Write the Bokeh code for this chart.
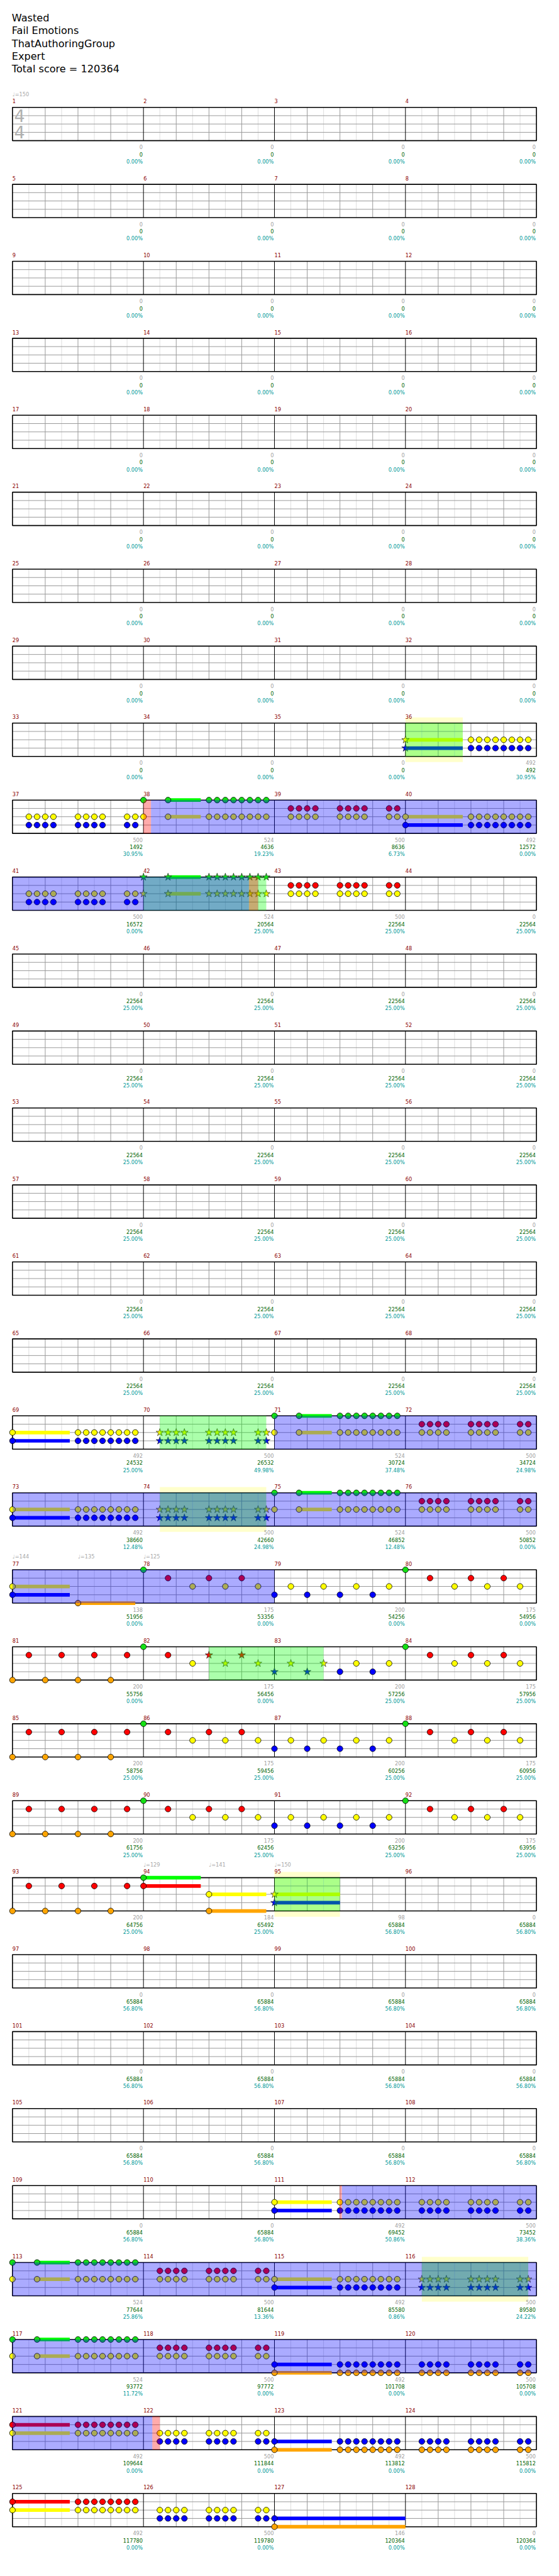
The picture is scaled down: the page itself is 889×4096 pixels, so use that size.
from bokeh.plotting import figure
from bokeh.models import Range1d, ColumnDataSource
from bokeh.embed import file_html
from bokeh.resources import INLINE
from bokeh.core.properties import value

# ---------------- data ----------------
TITLE_LINES = ["Wasted", "Fail Emotions", "ThatAuthoringGroup", "Expert", "Total score = 120364"]
N_MEASURES = 128

MEASURE_SCORE = ([0] * 32 + [0, 0, 0, 492] + [500, 524, 500, 492] + [500, 524, 500, 0] + [0] * 24
                 + [492, 500, 524, 500] + [492, 500, 524, 500] + [138, 175, 200, 175]
                 + [200, 175, 200, 175] + [200, 175, 200, 175] + [200, 175, 200, 175]
                 + [200, 184, 98, 0] + [0] * 12 + [0, 0, 492, 500] + [524, 500, 492, 500]
                 + [524, 500, 492, 500] + [492, 500, 492, 500] + [492, 500, 146, 0])

TOTAL_SCORE = ([0] * 35 + [492] + [1492, 4636, 8636, 12572] + [16572, 20564, 22564, 22564]
               + [22564] * 24 + [24532, 26532, 30724, 34724] + [38660, 42660, 46852, 50852]
               + [51956, 53356, 54256, 54956] + [55756, 56456, 57256, 57956]
               + [58756, 59456, 60256, 60956] + [61756, 62456, 63256, 63956]
               + [64756, 65492, 65884, 65884] + [65884] * 14 + [69452, 73452]
               + [77644, 81644, 85580, 89580] + [93772, 97772, 101708, 105708]
               + [109644, 111844, 113812, 115812] + [117780, 119780, 120364, 120364])

PERCENT = ([0.00] * 35 + [30.95] + [30.95, 19.23, 6.73, 0.00] + [0.00, 25.00, 25.00, 25.00]
           + [25.00] * 24 + [25.00, 49.98, 37.48, 24.98] + [12.48, 24.98, 12.48, 0.00]
           + [0.00] * 4 + [0.00, 0.00, 25.00, 25.00] + [25.00] * 8
           + [25.00, 25.00, 56.80, 56.80] + [56.80] * 14 + [50.86, 38.36]
           + [25.86, 13.36, 0.86, 24.22] + [11.72, 0.00, 0.00, 0.00] + [0.00] * 8)

# tempo changes: (measure, beat, bpm)
TEMPOS = [(1, 0, 150), (77, 0, 144), (77, 2, 135), (78, 0, 125), (94, 0, 129), (94, 2, 141), (95, 0, 150)]

RIFF_A = [0.5, 0.75, 1, 1.25, 2, 2.25, 2.5, 2.75, 3.5, 3.75]
RUN_8 = [2, 2.25, 2.5, 2.75, 3, 3.25, 3.5, 3.75]
ON_BEATS = [0, 1, 2, 3]
OFF_BEATS = [0.5, 1.5, 2.5, 3.5]
R_HITS = [0.75, 2, 3]
Y_HITS = [1.5, 2.5, 3.5]

# (measure, frets, beats, sustain in beats, star note)
NOTE_GROUPS = [
    (36, "YB", [0], 1.75, True), (36, "YB", RUN_8, 0, False),
    (37, "YB", RIFF_A, 0, False),
    (38, "GY", [0], 0, False), (38, "GY", [0.75], 1.0, False), (38, "GY", RUN_8, 0, False),
    (39, "RY", RIFF_A, 0, False),
    (40, "YB", [0], 1.75, False), (40, "YB", RUN_8, 0, False),
    (41, "YB", RIFF_A, 0, False),
    (42, "GY", [0], 0, True), (42, "GY", [0.75], 1.0, True), (42, "GY", RUN_8, 0, True),
    (43, "RY", RIFF_A, 0, False),
    (69, "YB", [0], 1.75, False), (69, "YB", RUN_8, 0, False),
    (70, "YB", RIFF_A, 0, True),
    (71, "GY", [0], 0, False), (71, "GY", [0.75], 1.0, False), (71, "GY", RUN_8, 0, False),
    (72, "RY", RIFF_A, 0, False),
    (73, "YB", [0], 1.75, False), (73, "YB", RUN_8, 0, False),
    (74, "YB", RIFF_A, 0, True),
    (75, "GY", [0], 0, False), (75, "GY", [0.75], 1.0, False), (75, "GY", RUN_8, 0, False),
    (76, "RY", RIFF_A, 0, False),
    (77, "YB", [0], 1.75, False), (77, "O", [2], 1.75, False),
    (78, "G", [0], 0, False), (78, "R", R_HITS, 0, False), (78, "Y", Y_HITS, 0, False),
    (79, "B", ON_BEATS, 0, False), (79, "Y", OFF_BEATS, 0, False),
    (80, "G", [0], 0, False), (80, "R", R_HITS, 0, False), (80, "Y", Y_HITS, 0, False),
    (81, "O", ON_BEATS, 0, False), (81, "R", OFF_BEATS, 0, False),
    (82, "G", [0], 0, False), (82, "R", [0.75], 0, False), (82, "Y", [1.5], 0, False),
    (82, "R", [2, 3], 0, True), (82, "Y", [2.5, 3.5], 0, True),
    (83, "B", [0, 1], 0, True), (83, "Y", [0.5, 1.5], 0, True),
    (83, "B", [2, 3], 0, False), (83, "Y", [2.5, 3.5], 0, False),
    (84, "G", [0], 0, False), (84, "R", R_HITS, 0, False), (84, "Y", Y_HITS, 0, False),
    (85, "O", ON_BEATS, 0, False), (85, "R", OFF_BEATS, 0, False),
    (86, "G", [0], 0, False), (86, "R", R_HITS, 0, False), (86, "Y", Y_HITS, 0, False),
    (87, "B", ON_BEATS, 0, False), (87, "Y", OFF_BEATS, 0, False),
    (88, "G", [0], 0, False), (88, "R", R_HITS, 0, False), (88, "Y", Y_HITS, 0, False),
    (89, "O", ON_BEATS, 0, False), (89, "R", OFF_BEATS, 0, False),
    (90, "G", [0], 0, False), (90, "R", R_HITS, 0, False), (90, "Y", Y_HITS, 0, False),
    (91, "B", ON_BEATS, 0, False), (91, "Y", OFF_BEATS, 0, False),
    (92, "G", [0], 0, False), (92, "R", R_HITS, 0, False), (92, "Y", Y_HITS, 0, False),
    (93, "O", ON_BEATS, 0, False), (93, "R", OFF_BEATS, 0, False),
    (94, "GR", [0], 1.75, False), (94, "YO", [2], 1.75, False),
    (95, "YB", [0], 2.0, True),
    (111, "YB", [0], 1.75, False), (111, "YB", RUN_8, 0, False),
    (112, "YB", RIFF_A, 0, False),
    (113, "GY", [0], 0, False), (113, "GY", [0.75], 1.0, False), (113, "GY", RUN_8, 0, False),
    (114, "RY", RIFF_A, 0, False),
    (115, "YB", [0], 1.75, False), (115, "YB", RUN_8, 0, False),
    (116, "YB", RIFF_A, 0, True),
    (117, "GY", [0], 0, False), (117, "GY", [0.75], 1.0, False), (117, "GY", RUN_8, 0, False),
    (118, "RY", RIFF_A, 0, False),
    (119, "BO", [0], 1.75, False), (119, "BO", RUN_8, 0, False),
    (120, "BO", RIFF_A, 0, False),
    (121, "RY", [0], 1.75, False), (121, "RY", RUN_8, 0, False),
    (122, "YB", RIFF_A, 0, False),
    (123, "BO", [0], 1.75, False), (123, "BO", RUN_8, 0, False),
    (124, "BO", RIFF_A, 0, False),
    (125, "RY", [0], 1.75, False), (125, "RY", RUN_8, 0, False),
    (126, "YB", RIFF_A, 0, False),
    (127, "BO", [0], 4.0, False),
]

# shaded spans: ((measure, beat), (measure, beat))
STAR_PHRASES = [((36, 0), (36, 1.75)), ((42, 0), (42, 3.75)), ((70, 0.5), (70, 3.75)),
                ((74, 0.5), (74, 3.75)), ((82, 2), (83, 1.5)), ((95, 0), (95, 2)),
                ((116, 0.5), (116, 3.75))]
WHAMMY_SPANS = [((36, 0), (36, 1.75)), ((74, 0.5), (74, 3.75)), ((95, 0), (95, 2)),
                ((116, 0.5), (116, 3.75))]
ACTIVATIONS = [((38, 0.23), (42, 3.22)), ((71, 0), (79, 0)), ((111, 2.06), (122, 0.27))]
ACT_MARKS = [((38, 0), (38, 0.23)), ((42, 3.22), (42, 3.5)), ((111, 1.99), (111, 2.06)),
             ((122, 0.27), (122, 0.5))]

FRET_LANE = {"G": 0, "R": 1, "Y": 2, "B": 3, "O": 4}
NOTE_COLOR = {"G": "#14e014", "R": "#ff0000", "Y": "#ffff00", "B": "#0000ff", "O": "#ffa500"}
SUST_COLOR = {"G": "#00ff00", "R": "#ff0000", "Y": "#ffff00", "B": "#0000ff", "O": "#ffa500"}

# ---------------- layout (reference px) ----------------
S = 0.868
W, H = 873, 4080
X0, BEAT = 31.5, 60.0
TOP0, ROW_STEP, LANE = 205.3, 141.0, 15.25
N_ROWS = N_MEASURES // 4
FONT = value("DejaVu Sans")


def top(r):
    return TOP0 + ROW_STEP * r


def row_of(m):
    return (m - 1) // 4


def xin(m, b):
    return ((m - 1) % 4) * 4 + b


def spans(a, b):
    g0 = (a[0] - 1) * 4 + a[1]
    g1 = (b[0] - 1) * 4 + b[1]
    out = []
    r = int(g0 // 16)
    while r * 16 < g1:
        s = max(g0, r * 16) - r * 16
        e = min(g1, (r + 1) * 16) - r * 16
        if e > s:
            out.append((r, s, e))
        r += 1
    return out


p = figure(width=W, height=H,
           x_range=Range1d((8 / S - X0) / BEAT, (8 / S + W / S - X0) / BEAT),
           y_range=Range1d(8 / S + H / S, 8 / S),
           x_axis_type=None, y_axis_type=None, output_backend="svg",
           toolbar_location=None, min_border=0)
p.grid.visible = False
p.outline_line_color = None
p.background_fill_color = "white"
p.border_fill_color = "white"


def quads(span_list, pad=0.0):
    d = dict(left=[], right=[], top=[], bottom=[])
    for a, b in span_list:
        for r, s, e in spans(a, b):
            d["left"].append(s)
            d["right"].append(e)
            d["top"].append(top(r) - pad)
            d["bottom"].append(top(r) + 4 * LANE + pad)
    return d


# whammy highlight (behind)
p.quad(source=ColumnDataSource(quads(WHAMMY_SPANS, pad=10.5)), left="left", right="right",
       top="top", bottom="bottom", fill_color="#ffff00", fill_alpha=0.2, line_color=None)

# grid
segs = {"e": dict(x0=[], y0=[], x1=[], y1=[]), "q": dict(x0=[], y0=[], x1=[], y1=[]),
        "m": dict(x0=[], y0=[], x1=[], y1=[]), "l": dict(x0=[], y0=[], x1=[], y1=[])}
border = dict(left=[], right=[], top=[], bottom=[])
for r in range(N_ROWS):
    t = top(r)
    b = t + 4 * LANE
    for k in range(16):
        segs["e"]["x0"].append(k + 0.5); segs["e"]["x1"].append(k + 0.5)
        segs["e"]["y0"].append(t); segs["e"]["y1"].append(b)
    for k in range(1, 16):
        key = "m" if k % 4 == 0 else "q"
        segs[key]["x0"].append(k); segs[key]["x1"].append(k)
        segs[key]["y0"].append(t); segs[key]["y1"].append(b)
    for ln in (1, 2, 3):
        segs["l"]["x0"].append(0); segs["l"]["x1"].append(16)
        segs["l"]["y0"].append(t + ln * LANE); segs["l"]["y1"].append(t + ln * LANE)
    border["left"].append(0); border["right"].append(16)
    border["top"].append(t); border["bottom"].append(b)

p.segment(source=ColumnDataSource(segs["e"]), x0="x0", y0="y0", x1="x1", y1="y1",
          line_color="#dedede", line_width=1)
p.segment(source=ColumnDataSource(segs["q"]), x0="x0", y0="y0", x1="x1", y1="y1",
          line_color="#9a9a9a", line_width=1)
p.segment(source=ColumnDataSource(segs["l"]), x0="x0", y0="y0", x1="x1", y1="y1",
          line_color="#9a9a9a", line_width=1)
p.segment(source=ColumnDataSource(segs["m"]), x0="x0", y0="y0", x1="x1", y1="y1",
          line_color="#000000", line_width=1)
p.quad(source=ColumnDataSource(border), left="left", right="right", top="top", bottom="bottom",
       fill_color=None, line_color="black", line_width=1.6)

# notes
sus = dict(left=[], right=[], top=[], bottom=[], color=[])
circ = dict(x=[], y=[], color=[])
star = dict(x=[], y=[], color=[])
for m, frets, beats, sl, is_star in NOTE_GROUPS:
    r = row_of(m)
    for bt in beats:
        x = xin(m, bt)
        for f in frets:
            y = top(r) + FRET_LANE[f] * LANE
            if sl > 0:
                sus["left"].append(x); sus["right"].append(x + sl)
                sus["top"].append(y - 3.3); sus["bottom"].append(y + 3.3)
                sus["color"].append(SUST_COLOR[f])
            tgt = star if is_star else circ
            tgt["x"].append(x); tgt["y"].append(y); tgt["color"].append(NOTE_COLOR[f])

p.quad(source=ColumnDataSource(sus), left="left", right="right", top="top", bottom="bottom",
       fill_color="color", line_color=None)
p.scatter(source=ColumnDataSource(circ), x="x", y="y", marker="circle", size=9.2,
          fill_color="color", line_color="black", line_width=0.8)
p.scatter(source=ColumnDataSource(star), x="x", y="y", marker="star", size=12.5,
          fill_color="color", line_color="#222222", line_width=0.7)

# overlays
p.quad(source=ColumnDataSource(quads(STAR_PHRASES)), left="left", right="right", top="top",
       bottom="bottom", fill_color="#00ff00", fill_alpha=0.33, line_color=None)
p.quad(source=ColumnDataSource(quads(ACT_MARKS)), left="left", right="right", top="top",
       bottom="bottom", fill_color="#ff0000", fill_alpha=0.33, line_color=None)
p.quad(source=ColumnDataSource(quads(ACTIVATIONS)), left="left", right="right", top="top",
       bottom="bottom", fill_color="#0000ff", fill_alpha=0.33, line_color=None)

# texts
SMALL = value("8.2px")
mn = dict(x=[], y=[], t=[])
gv = dict(x=[], y=[], t=[])
cv = dict(x=[], y=[], t=[])
pv = dict(x=[], y=[], t=[])
for i in range(N_MEASURES):
    m = i + 1
    r = row_of(m)
    t = top(r)
    mn["x"].append(xin(m, 0)); mn["y"].append(t - 11.3); mn["t"].append(str(m))
    xe = xin(m, 4) - 0.022
    gv["x"].append(xe); gv["y"].append(t + 72.7); gv["t"].append(str(MEASURE_SCORE[i]))
    cv["x"].append(xe); cv["y"].append(t + 86.0); cv["t"].append(str(TOTAL_SCORE[i]))
    pv["x"].append(xe); pv["y"].append(t + 99.4); pv["t"].append("%.2f%%" % PERCENT[i])

p.text(source=ColumnDataSource(mn), x="x", y="y", text="t", text_font=FONT, text_font_size=SMALL,
       text_color="#8b0000", text_align="left", text_baseline="middle")
p.text(source=ColumnDataSource(gv), x="x", y="y", text="t", text_font=FONT, text_font_size=SMALL,
       text_color="#a0a0a0", text_align="right", text_baseline="middle")
p.text(source=ColumnDataSource(cv), x="x", y="y", text="t", text_font=FONT, text_font_size=SMALL,
       text_color="#006400", text_align="right", text_baseline="middle")
p.text(source=ColumnDataSource(pv), x="x", y="y", text="t", text_font=FONT, text_font_size=SMALL,
       text_color="#009999", text_align="right", text_baseline="middle")

tp = dict(x=[xin(m, b) for m, b, _ in TEMPOS],
          y=[top(row_of(m)) - 24.0 for m, b, _ in TEMPOS],
          t=["\u2669=%d" % bpm for _, _, bpm in TEMPOS])
p.text(source=ColumnDataSource(tp), x="x", y="y", text="t", text_font=FONT, text_font_size=SMALL,
       text_color="#a8a8a8", text_align="left", text_baseline="middle")

# time signature
p.text(x=[0.05, 0.05], y=[top(0) + 15.5, top(0) + 45.5], text=["4", "4"], text_font=FONT,
       text_font_size=value("27px"), text_color="#b0b0b0", text_align="left",
       text_baseline="middle")

# title block
p.text(x=[-0.02] * len(TITLE_LINES), y=[41.7 + 23.3 * k for k in range(len(TITLE_LINES))],
       text=TITLE_LINES, text_font=FONT, text_font_size=value("16.1px"), text_color="black",
       text_align="left", text_baseline="middle")

open("out.html", "w").write(file_html(p, INLINE))
